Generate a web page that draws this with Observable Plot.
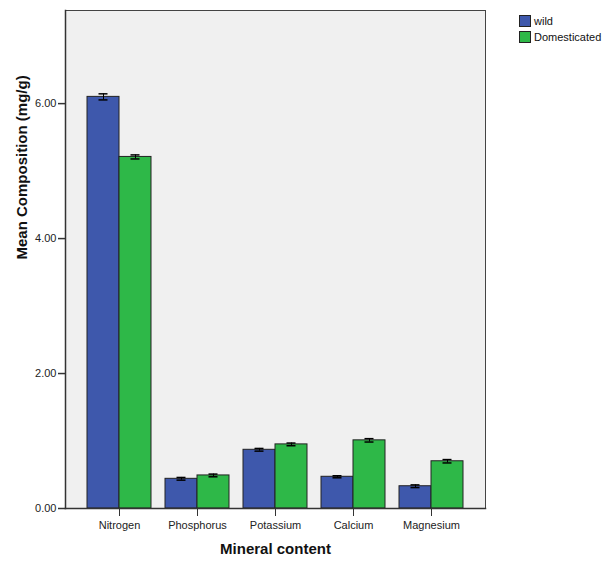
<!DOCTYPE html>
<html>
<head>
<meta charset="utf-8">
<script src="https://cdn.jsdelivr.net/npm/d3@7"></script>
<script src="https://cdn.jsdelivr.net/npm/@observablehq/plot@0.6"></script>
<style>
  body { margin: 0; background: #fff; font-family: "Liberation Sans", Arial, sans-serif; }
  #wrap { position: relative; width: 609px; height: 564px; }
  #legend { position: absolute; left: 519px; top: 13px; font-size: 11px; color: #111; }
  .sw { display: flex; align-items: center; height: 16px; }
  .sq { width: 10px; height: 10px; border: 1px solid #222; margin-right: 3px; }
</style>
</head>
<body>
<div id="wrap">
  <div id="chart"></div>
  <div id="legend"></div>
</div>
<script>
const categories = ["Nitrogen", "Phosphorus", "Potassium", "Calcium", "Magnesium"];
const series = ["wild", "Domesticated"];
const colors = ["#3E58AC", "#2EB848"];
const wild = [6.10, 0.44, 0.87, 0.47, 0.33];
const domesticated = [5.21, 0.49, 0.95, 1.01, 0.70];
const wildErr = [0.045, 0.02, 0.02, 0.015, 0.02];
const domErr = [0.03, 0.02, 0.02, 0.025, 0.025];
const yTicks = [0, 2, 4, 6];

const wildRows = categories.map((c, i) => ({cat: c, v: wild[i], e: wildErr[i]}));
const domRows = categories.map((c, i) => ({cat: c, v: domesticated[i], e: domErr[i]}));

const bw = 64;      // approx bandwidth in px
const half = bw / 2;
const capW = 9;
const capL_w = half / 2 - capW / 2;
const capR_w = bw - (half / 2 + capW / 2);
const capL_d = half + half / 2 - capW / 2;
const capR_d = bw - (half + half / 2 + capW / 2);

const plot = Plot.plot({
  width: 609,
  height: 564,
  marginLeft: 65,
  marginRight: 124,
  marginTop: 10,
  marginBottom: 56,
  style: {fontFamily: "Liberation Sans, Arial, sans-serif", fontSize: "11px", color: "#222", background: "white"},
  x: {type: "band", domain: categories, paddingInner: 0.18, paddingOuter: 0.27},
  y: {domain: [0, 7.38]},
  marks: [
    Plot.frame({fill: "#F0F0F0", stroke: "#444"}),
    Plot.barY(wildRows, {x: "cat", y: "v", fill: colors[0], stroke: "#222", strokeWidth: 1, insetLeft: 0, insetRight: half}),
    Plot.barY(domRows, {x: "cat", y: "v", fill: colors[1], stroke: "#222", strokeWidth: 1, insetLeft: half, insetRight: 0}),
    Plot.ruleX(wildRows, {x: "cat", y1: d => d.v - d.e, y2: d => d.v + d.e, dx: -half / 2, stroke: "#000"}),
    Plot.ruleX(domRows, {x: "cat", y1: d => d.v - d.e, y2: d => d.v + d.e, dx: half / 2, stroke: "#000"}),
    Plot.tickY(wildRows, {x: "cat", y: d => d.v - d.e, insetLeft: capL_w, insetRight: capR_w, stroke: "#000", strokeWidth: 1.5}),
    Plot.tickY(wildRows, {x: "cat", y: d => d.v + d.e, insetLeft: capL_w, insetRight: capR_w, stroke: "#000", strokeWidth: 1.5}),
    Plot.tickY(domRows, {x: "cat", y: d => d.v - d.e, insetLeft: capL_d, insetRight: capR_d, stroke: "#000", strokeWidth: 1.5}),
    Plot.tickY(domRows, {x: "cat", y: d => d.v + d.e, insetLeft: capL_d, insetRight: capR_d, stroke: "#000", strokeWidth: 1.5}),
    Plot.axisY({ticks: yTicks, tickFormat: d3.format(".2f"), tickSize: 7, tickPadding: 2, label: null, fontSize: 11, stroke: "#333", strokeWidth: 1.5}),
    Plot.axisX({tickSize: 8, tickPadding: 5, label: null, fontSize: 11, stroke: "#333"}),
    Plot.frame({anchor: "left", stroke: "#333", strokeWidth: 1.5}),
    Plot.frame({anchor: "bottom", stroke: "#333", strokeWidth: 1.5}),
    Plot.text(["Mineral content"], {frameAnchor: "bottom", dy: 45, fontWeight: "bold", fontSize: 15, fill: "#111"}),
    Plot.text(["Mean Composition (mg/g)"], {frameAnchor: "left", dx: -43, rotate: -90, fontWeight: "bold", fontSize: 15, fill: "#111"})
  ]
});
document.getElementById("chart").appendChild(plot);

const legend = document.getElementById("legend");
series.forEach((s, i) => {
  const row = document.createElement("div");
  row.className = "sw";
  const sq = document.createElement("div");
  sq.className = "sq";
  sq.style.background = colors[i];
  const t = document.createElement("span");
  t.textContent = s;
  row.appendChild(sq);
  row.appendChild(t);
  legend.appendChild(row);
});
</script>
</body>
</html>
